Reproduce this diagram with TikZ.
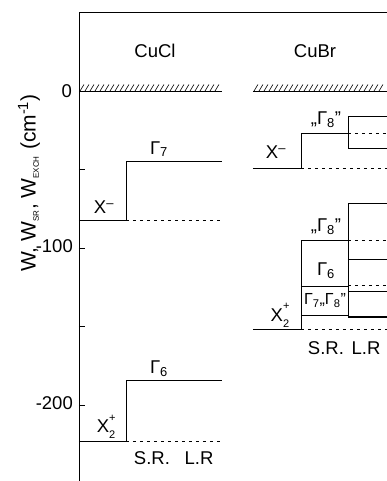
\documentclass[tikz,border=0pt]{standalone}
\usepackage{fontspec}
\setmainfont{Liberation Sans}
\usetikzlibrary{positioning}

\newcommand{\supsub}[2]{\rlap{\raisebox{0.6em}{\fontsize{11}{12}\selectfont #1}}\raisebox{-0.35em}{\fontsize{11}{12}\selectfont #2}}

\begin{document}
\begin{tikzpicture}[x=1pt,y=1.57pt,
    lvl/.style={line width=0.8pt},
    refl/.style={line width=0.6pt, dash pattern=on 3pt off 4pt},
    lbl/.style={font=\fontsize{18.5}{21}\selectfont, inner sep=1pt},
    axlbl/.style={font=\fontsize{21}{24}\selectfont, inner sep=1pt}]
  \useasboundingbox (0,-248.4) rectangle (387,58);
  % frame and ticks
  \draw[lvl] (79,-248.4) -- (79,50.3) -- (387,50.3);
  \foreach \e in {-50,-100,-150,-200} \draw[lvl] (79,\e) -- ++(6,0);
  \node[lbl,anchor=east] (t0) at (73,0) {0};
  \node[lbl,anchor=east] (t100) at (74,-99) {-100};
  \node[lbl,anchor=east] (t200) at (74,-199) {-200};
  \node[axlbl,rotate=90] (ylab) at (29,-58.6)
    {W, W\textsubscript{\footnotesize SR}, W\textsubscript{\footnotesize EXCH} (cm\textsuperscript{-1})};
  % zero lines, hatched
  \draw[line width=1pt] (79,0) -- (222,0);
  \foreach \x in {80,85,...,217} \draw[line width=0.6pt] (\x,0) -- ++(4,4.2);
  \draw[line width=1pt] (253,0) -- (387,0);
  \foreach \x in {254,259,...,382} \draw[line width=0.6pt] (\x,0) -- ++(4,4.2);
  % CuCl
  \node[lbl] (cucl) at (155,25.5) {CuCl};
  \draw[lvl] (79,-82.2) -- (126,-82.2) -- (126,-44.6) -- (222,-44.6);
  \draw[refl] (126,-82.2) -- (222,-82.2);
  \draw[lvl] (79,-222.9) -- (126,-222.9) -- (126,-184.1) -- (222,-184.1);
  \draw[refl] (126,-222.9) -- (222,-222.9);
  \node[lbl] (clxm) at (104,-74) {X\textsuperscript{--}};
  \node[lbl] (clg7) at (159,-37) {Γ\textsubscript{7}};
  \node[lbl] (clxp) at (106,-214) {X\supsub{+}{2}};
  \node[lbl] (clg6) at (159,-177) {Γ\textsubscript{6}};
  \node[lbl] (clsr) at (152,-234) {S.R.};
  \node[lbl] (cllr) at (199,-234) {L.R};
  % CuBr
  \node[lbl] (cubr) at (315,25.5) {CuBr};
  \draw[lvl] (253,-49) -- (301,-49) -- (301,-26.8) -- (348,-26.8);
  \draw[lvl] (387,-15.9) -- (348,-15.9) -- (348,-36.3) -- (387,-36.3);
  \draw[refl] (348,-26.8) -- (387,-26.8);
  \draw[refl] (301,-49) -- (387,-49);
  \node[lbl] (brxm) at (276,-39) {X\textsuperscript{--}};
  \node[lbl] (brg8a) at (326,-18) {„Γ\textsubscript{8}”};
  \draw[lvl] (253,-151.6) -- (301,-151.6) -- (301,-94.9) -- (348,-94.9);
  \draw[lvl] (301,-124.2) -- (348,-124.2);
  \draw[lvl] (301,-142.7) -- (348,-142.7);
  \draw[lvl] (348,-144.6) -- (348,-71.3) -- (387,-71.3);
  \draw[lvl] (348,-107) -- (387,-107);
  \draw[lvl] (348,-127.4) -- (387,-127.4);
  \draw[line width=2.4pt] (348,-144) -- (387,-144);
  \draw[refl] (348,-94.9) -- (387,-94.9);
  \draw[refl] (348,-123.6) -- (387,-123.6);
  \draw[refl] (301,-151.6) -- (387,-151.6);
  \node[lbl] (brxp) at (280,-143) {X\supsub{+}{2}};
  \node[lbl] (brg8b) at (326,-86.5) {„Γ\textsubscript{8}”};
  \node[lbl] (brg6) at (326,-114.5) {Γ\textsubscript{6}};
  \node[lbl,font=\fontsize{16}{18}\selectfont] (brg78) at (325,-133.5) {Γ\textsubscript{7}„Γ\textsubscript{8}”};
  \node[lbl] (brsr) at (326,-164) {S.R.};
  \node[lbl] (brlr) at (366,-164) {L.R};
\end{tikzpicture}
\end{document}
